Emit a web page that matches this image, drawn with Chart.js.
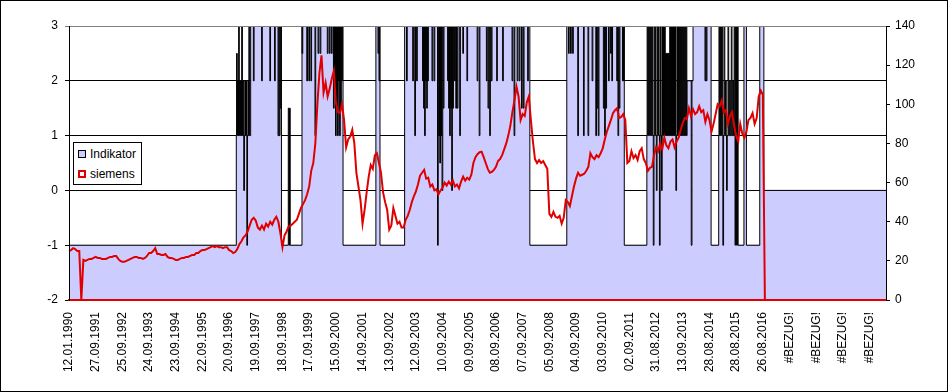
<!DOCTYPE html>
<html>
<head>
<meta charset="utf-8">
<script src="https://cdn.jsdelivr.net/npm/chart.js@4/dist/chart.umd.min.js"></script>
<style>
  body { margin: 0; background: #fff; }
  #wrap { position: relative; width: 948px; height: 392px; }
  #frame { position: absolute; left: 0; top: 0; width: 948px; height: 392px; box-sizing: border-box; border: 1px solid #000; pointer-events: none; }
  #legend { position: absolute; left: 73px; top: 142px; width: 67px; height: 41px; border: 1px solid #000; background: #fff; font: 12px "Liberation Sans", Arial, sans-serif; color: #000; }
  .item { position: absolute; left: 4px; height: 14px; line-height: 14px; white-space: nowrap; }
  .swatch { display: inline-block; width: 8px; height: 8px; box-sizing: border-box; vertical-align: middle; margin-right: 4px; position: relative; top: -1px; }
</style>
</head>
<body>
<div id="wrap">
  <canvas id="chart" width="948" height="392"></canvas>
  <div id="legend">
    <div class="item" style="top:4px"><span class="swatch" style="background:#ccccff;border:1px solid #000"></span>Indikator</div>
    <div class="item" style="top:24px"><span class="swatch" style="background:#fff;border:2px solid #e00000"></span>siemens</div>
  </div>
  <div id="frame"></div>
</div>
<script>
// x axis: one label every 13 points
const tickLabels = ['12.01.1990', '27.09.1991', '25.09.1992', '24.09.1993', '23.09.1994', '22.09.1995',
    '20.09.1996', '19.09.1997', '18.09.1998', '17.09.1999', '15.09.2000', '14.09.2001', '13.09.2002',
    '12.09.2003', '10.09.2004', '09.09.2005', '08.09.2006', '07.09.2007', '05.09.2008', '04.09.2009',
    '03.09.2010', '02.09.2011', '31.08.2012', '13.09.2013', '28.08.2014', '28.08.2015', '26.08.2016',
    '#BEZUG!', '#BEZUG!', '#BEZUG!', '#BEZUG!'];
const labelStep = 13;

// siemens share price (right axis), one row per label interval
const siemens = [
    25, 25.5, 26.5, 26, 25, 25, 0, 20.5, 20, 20.5, 21, 21, 21.5,
    22, 21.5, 21.5, 21, 21, 21, 21.5, 22, 22, 22.5, 22.5, 21, 20,
    19.5, 19.5, 20, 20.5, 21, 21.5, 22, 22, 21.5, 21.5, 21, 21.5, 22.5,
    24, 24, 25, 26.5, 23.5, 23.5, 23, 23, 23.5, 22, 21.5, 21.5, 21,
    20.5, 20.5, 21, 21.5, 21.5, 22, 22, 22.5, 23, 23, 24, 24, 25,
    25.5, 25.5, 26, 26.5, 27, 27.5, 27, 27.5, 27, 27, 26.5, 27, 27,
    25.5, 25, 24, 24.5, 26, 28.5, 30, 32, 33, 35, 38, 41, 42,
    40.5, 37, 36, 38, 36, 39, 37.5, 40, 38.5, 41, 42.5, 40, 34,
    27, 33, 35, 37.5, 38, 39, 40, 41, 44, 47, 49, 51, 54,
    58, 66, 70, 80, 100, 116, 125, 106, 111, 104, 108, 113, 117,
    101, 96, 95.5, 100, 92, 78, 82, 83.5, 87, 80, 65, 58, 51,
    39, 46, 55, 63, 69, 67, 74, 75, 70, 65, 55, 50, 46,
    36, 38, 47, 43, 39, 40, 37, 37, 41, 43, 46, 50, 53,
    55.5, 59, 63.5, 65, 66.5, 62, 62.5, 58, 59, 56, 56.5, 54, 56,
    57.5, 60, 58.5, 60.5, 59, 61, 58, 59, 57, 60.5, 63, 61, 62.5,
    61.5, 64, 70, 73, 74.5, 75.5, 75.8, 73, 70, 67, 65, 65.5, 66.5,
    68, 71, 72, 74, 77, 80, 84, 89, 96, 102, 109, 104, 92,
    95, 94, 101, 104, 92, 81, 72, 70, 71.5, 70, 71, 69, 67,
    44, 42.5, 45, 42.5, 42, 43, 39, 42, 51, 50, 48, 53, 58,
    62, 65, 63.5, 64, 64.5, 66, 68, 75, 73, 72, 74, 73, 75,
    77.5, 82, 86, 89, 92, 95.5, 97, 98, 93, 93.5, 95, 92, 70,
    71, 76, 72.5, 74, 71.5, 76, 77.5, 72, 70, 66, 67.5, 68, 74,
    78, 76, 80, 77, 83, 79, 77.5, 81, 82, 78, 81, 83, 87,
    90.5, 93, 92.5, 98, 94, 97.5, 95, 96, 99, 96, 97, 91, 95,
    92, 86, 90, 95, 100, 99, 102, 96, 97, 90, 94, 96, 89,
    84, 81, 90, 85, 83, 86, 92, 93, 95.5, 90, 93, 104, 107,
    105,
    0, 0, 0, 0, 0, 0, 0, 0, 0, 0, 0, 0, 0, 0, 0, 0, 0, 0, 0, 0,
    0, 0, 0, 0, 0, 0, 0, 0, 0, 0, 0, 0, 0, 0, 0, 0, 0, 0, 0, 0,
    0, 0, 0, 0, 0, 0, 0, 0, 0, 0, 0, 0, 0, 0, 0, 0, 0, 0, 0, 0
];

// Indikator (left axis): level held from a point position onwards
const indikatorLevels = [
    [-1, 0], [1, 81.5], [3, 88.5], [-1, 103.5], [3, 113.5], [-1, 133.5], [3, 149.5], [-1, 151.5],
    [3, 163.5], [-1, 224.5], [3, 242.5], [-1, 270.5], [1, 281.5], [2, 301], [3, 304], [-1, 312.8],
    [1, 316.5], [-1, 324.5], [3, 328.8], [-1, 330], [3, 336.5], [0, 338.5]
];

// short one-day switches of the Indikator: [position, value]
const indikatorSwitches = [
    [81.8, 2.5], [82.3, 2], [82.8, 3], [83.3, 2], [83.8, 2], [84.3, 3], [84.8, 2], [85.3, 0], [85.8, 2],
    [86.3, 2], [86.8, -1], [87.3, 2], [87.8, 3],
    [90, 2], [94, 2], [98, 2], [100.3, 2], [102, 1], [102.6, 1], [103.1, 1.5],
    [107, 1.5], [107.6, 1.5],
    [113.7, 2.5], [116, 2], [117, 2], [118, 2], [120, 1], [121.5, 2.5], [122.5, 2.5], [126, 2.5], [127, 2.5],
    [128, 2.5], [129, 1.5], [129.5, 2], [130, 1], [130.5, 1.5], [131, 1], [131.5, 2], [132, 1], [132.5, 1.5], [133, 2],
    [150.7, 2.5], [151.2, 2],
    [164.6, 2], [167.6, 2], [168.6, 1], [169.5, 2], [172.4, 2], [172.9, 1.5], [173.4, 1], [173.9, 2], [174.4, 1.5],
    [174.9, 2], [177, 2], [178, 2], [179.7, -1], [180.3, 1], [180.8, 0.5], [181.3, 1], [181.9, 0], [182.5, 1.5],
    [184.6, 2], [185.1, 1.5], [185.6, 1], [186.1, 1.5], [186.6, 0], [187.1, 1.5], [188, 2], [188.6, 1.5],
    [189.3, 1.5], [190.5, 1], [192, 2.5], [194, 2], [199, 2], [200, 1], [203.5, 2], [204.3, 1.5], [205.1, 1],
    [205.9, 2], [208.5, 2], [211.4, 2], [216, 2], [217, 1], [218.5, 2], [219.5, 2], [220.6, 1.5], [221.5, 1.5],
    [223.6, 2],
    [243.5, 2.5], [244.5, 2.5], [245.5, 2.5], [248, 1], [250.8, 1], [253, 1], [255, 2], [256.8, 1], [257.4, 1.5],
    [258, 1], [260.5, 1.5], [261.1, 1], [261.7, 1.5], [263, 2], [264, 2.5], [264.6, 2], [267, 2], [267.6, 1],
    [268.2, 1.5], [269.8, 2], [270.3, 2],
    [281.8, 3], [282.3, 3], [282.8, 3], [283.3, 3], [283.8, 3], [284.3, 3], [284.8, -1], [285.3, 3], [285.8, 3],
    [286.3, 0], [286.8, 3], [287.3, 3], [287.8, -1], [288.3, 3], [288.8, 0], [289.3, 3], [289.8, 3], [290.3, 3],
    [290.8, 2.5], [291.3, 2.5], [291.8, 2.5], [292.3, 2.5], [292.8, 3], [293.3, 3], [293.8, 3], [294.3, 3],
    [294.8, 3], [295.3, 3], [295.8, 0], [296.3, 3], [296.8, 3], [297.3, 3], [297.8, 3], [298.3, 3], [298.8, 3],
    [299.3, 3], [299.8, 3], [300.3, 3], [300.8, 3],
    [303.3, -1], [310, 2], [310.6, 2],
    [316.8, 3], [317.3, 3], [317.8, 3], [318.3, 3], [318.7, -1], [319.3, 3], [320, 2], [320.5, 0], [321.2, 3],
    [322, 2], [322.8, 3], [323.5, 2], [324.2, 3],
    [324.8, 3], [325.3, 3], [325.8, 3]
];
const switchWidth = 0.35;

function levelAt(pos) {
    let value = indikatorLevels[0][0];
    indikatorLevels.forEach(([v, start]) => { if (start <= pos) value = v; });
    return value;
}

const indikator = indikatorLevels.map(([v, start]) => ({ x: start, y: v }));
indikatorSwitches.forEach(([pos, v]) => {
    indikator.push({ x: pos - switchWidth / 2, y: v });
    indikator.push({ x: pos + switchWidth / 2, y: levelAt(pos) });
});
indikator.sort((a, b) => a.x - b.x);
indikator.push({ x: siemens.length - 1, y: levelAt(siemens.length - 1) });

const labels = siemens.map((_, i) => (i % labelStep === 0 && tickLabels[i / labelStep]) ? tickLabels[i / labelStep] : '');

const plotTopLine = {
    id: 'plotTopLine',
    afterDatasetsDraw(chart) {
        const { ctx, chartArea } = chart;
        ctx.save();
        ctx.strokeStyle = '#808080';
        ctx.lineWidth = 1;
        ctx.beginPath();
        ctx.moveTo(chartArea.left, Math.round(chartArea.top) + 0.5);
        ctx.lineTo(chartArea.right, Math.round(chartArea.top) + 0.5);
        ctx.stroke();
        ctx.restore();
    }
};

Chart.defaults.font.family = '"Liberation Sans", Arial, sans-serif';
Chart.defaults.font.size = 12;
Chart.defaults.color = '#000';

new Chart(document.getElementById('chart'), {
    type: 'line',
    data: {
        labels,
        datasets: [
            {
                label: 'siemens',
                data: siemens,
                yAxisID: 'y1',
                borderColor: '#e00000',
                borderWidth: 2,
                pointRadius: 0,
                fill: false,
                tension: 0,
                order: 0
            },
            {
                label: 'Indikator',
                data: indikator,
                xAxisID: 'x2',
                yAxisID: 'y',
                borderColor: '#000',
                borderWidth: 1,
                backgroundColor: '#ccccff',
                fill: 'start',
                stepped: 'before',
                pointRadius: 0,
                order: 1
            }
        ]
    },
    options: {
        responsive: false,
        animation: false,
        events: [],
        layout: { padding: { top: 26, left: 0, right: 0, bottom: 0 } },
        plugins: {
            legend: { display: false },
            tooltip: { enabled: false }
        },
        scales: {
            x: {
                grid: { display: false, drawTicks: false },
                border: { display: true, color: '#e00000', width: 2, z: 1 },
                ticks: { autoSkip: false, minRotation: 90, maxRotation: 90, padding: 12 },
                afterFit: scale => { scale.height = 92; }
            },
            x2: {
                type: 'linear',
                display: false,
                min: 0,
                max: siemens.length - 1
            },
            y: {
                position: 'left',
                min: -2,
                max: 3,
                ticks: { stepSize: 1, padding: 7 },
                grid: {
                    color: c => (c.tick && c.tick.value === 3) ? '#808080' : '#000',
                    tickLength: 4
                },
                border: { display: true, color: '#000', width: 1, z: 1 },
                afterFit: scale => { scale.width = 69; }
            },
            y1: {
                position: 'right',
                min: 0,
                max: 140,
                ticks: { stepSize: 20, padding: 5 },
                grid: { drawOnChartArea: false, color: '#000', tickLength: 4 },
                border: { display: true, color: '#000', width: 1, z: 1 },
                afterFit: scale => { scale.width = 62; }
            }
        }
    },
    plugins: [plotTopLine]
});
</script>
</body>
</html>
